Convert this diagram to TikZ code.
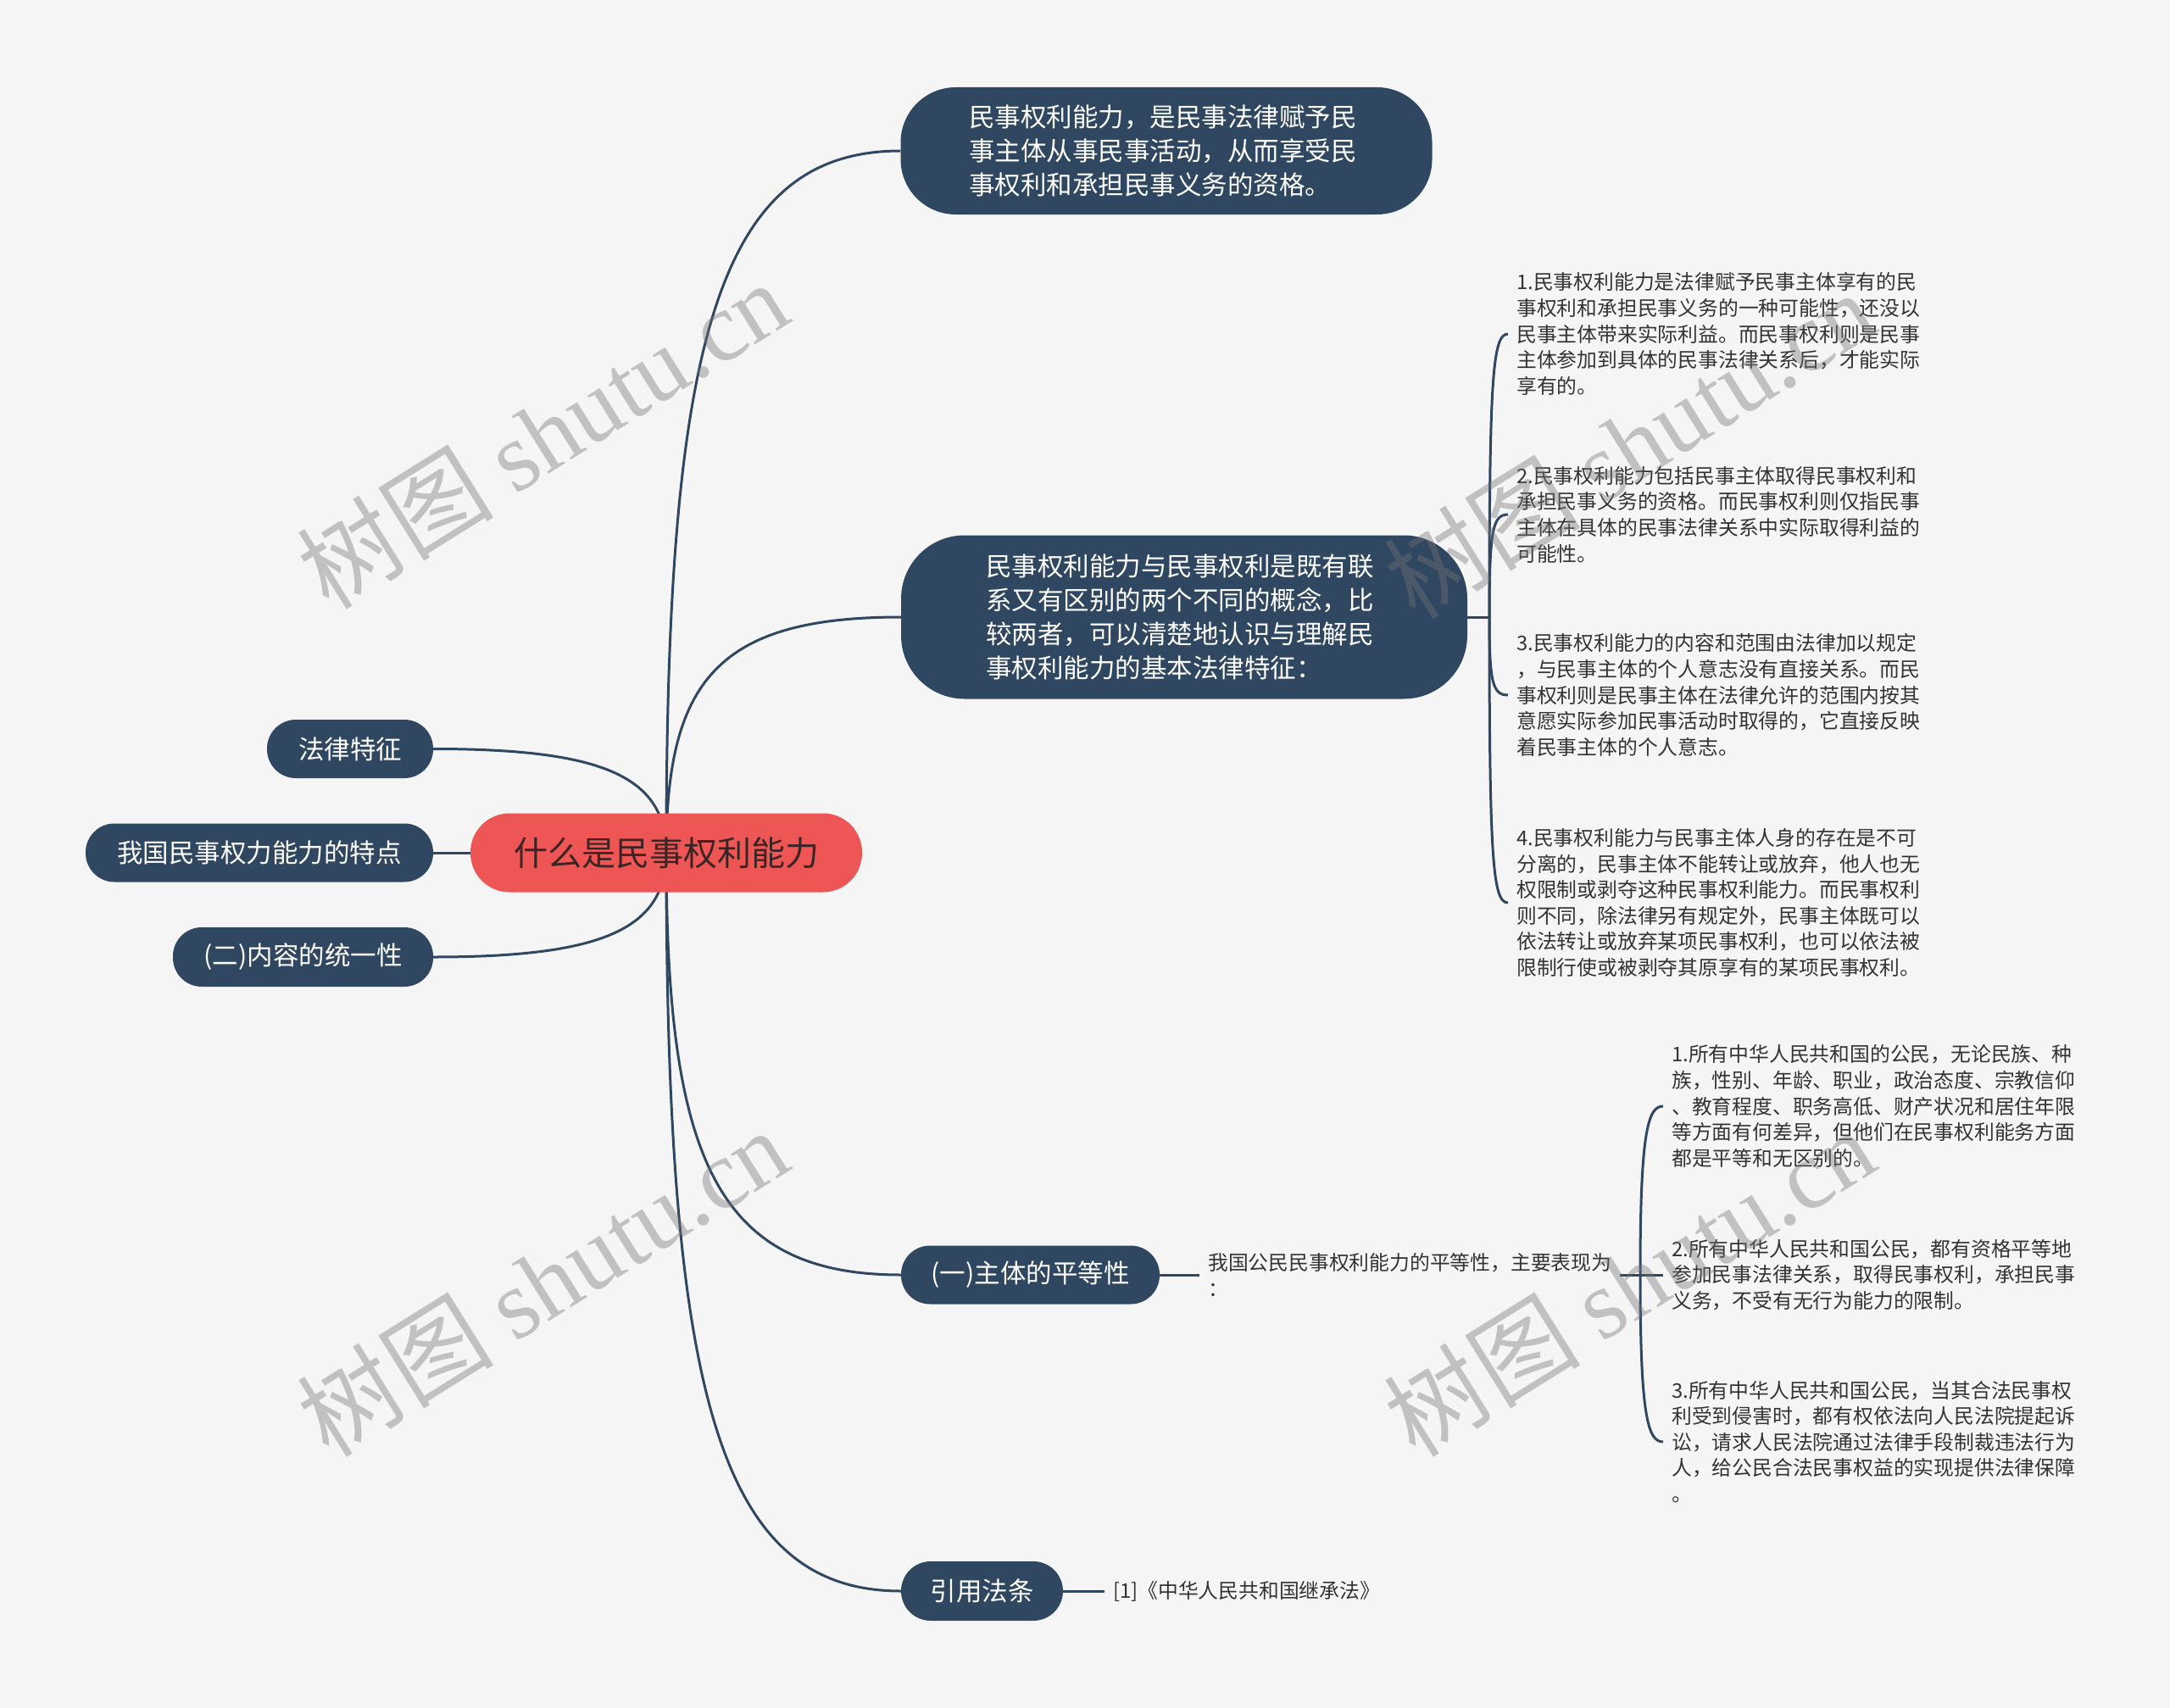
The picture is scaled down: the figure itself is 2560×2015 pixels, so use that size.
\documentclass[tikz,border=0pt]{standalone}
\usepackage{fontspec}
\newfontfamily\cjk{Noto Sans CJK SC}
\newfontfamily\wmserif{Liberation Serif}
\usetikzlibrary{backgrounds}
\definecolor{bgc}{HTML}{F5F5F5}
\definecolor{navy}{HTML}{2F4760}
\definecolor{rootred}{HTML}{EE5555}
\definecolor{roottext}{HTML}{3A2424}
\definecolor{bodytext}{HTML}{333333}
\tikzset{
  pillnode/.style={fill=navy, text=white, inner sep=0pt, align=left,
    font=\cjk\fontsize{30.5}{40}\selectfont},
  rootnode/.style={fill=rootred, text=roottext, inner sep=0pt, rounded corners=46pt,
    minimum width=462pt, minimum height=93pt, font=\cjk\fontsize{40}{46}\selectfont},
  smalltext/.style={text=bodytext, inner xsep=10pt, inner ysep=0pt, anchor=west, align=left,
    font=\cjk\fontsize{23.8}{30.6}\selectfont},
  conn/.style={draw=navy, line width=3pt},
  wm/.style={text=black!55, text opacity=0.4, rotate=32,
    font=\cjk\fontsize{116}{116}\selectfont},
}
\begin{document}
\begin{tikzpicture}[x=1pt,y=-1pt]
\useasboundingbox (0,0) rectangle (2560,2015);
\begin{pgfonlayer}{background}
\fill[bgc] (0,0) rectangle (2560,2015);
\end{pgfonlayer}

% root
\node[rootnode] (root) at (786,1006) {什么是民事权利能力};

% left nodes
\node[pillnode, rounded corners=34pt, minimum width=196pt, minimum height=69pt] (l1) at (413,883.5) {法律特征};
\node[pillnode, rounded corners=34pt, minimum width=410pt, minimum height=69pt] (l2) at (306,1006) {我国民事权力能力的特点};
\node[pillnode, rounded corners=34pt, minimum width=307pt, minimum height=70pt] (l3) at (357.5,1129) {(二)内容的统一性};

% right nodes
\node[pillnode, rounded corners=65pt, minimum width=627pt, minimum height=150pt] (n1) at (1376,178)
  {\hspace*{-8pt}民事权利能力，是民事法律赋予民\\\hspace*{-8pt}事主体从事民事活动，从而享受民\\\hspace*{-8pt}事权利和承担民事义务的资格。};
\node[pillnode, rounded corners=75pt, minimum width=668pt, minimum height=193pt] (n2) at (1397,728)
  {\hspace*{-10pt}民事权利能力与民事权利是既有联\\\hspace*{-10pt}系又有区别的两个不同的概念，比\\\hspace*{-10pt}较两者，可以清楚地认识与理解民\\\hspace*{-10pt}事权利能力的基本法律特征：};
\node[pillnode, rounded corners=34pt, minimum width=305pt, minimum height=69pt] (n3) at (1215.5,1504) {(一)主体的平等性};
\node[pillnode, rounded corners=35pt, minimum width=191pt, minimum height=70pt] (n4) at (1158.5,1877) {引用法条};

% group 1 children
\node[smalltext] (c1) at (1779,394) {1.民事权利能力是法律赋予民事主体享有的民\\事权利和承担民事义务的一种可能性，还没以\\民事主体带来实际利益。而民事权利则是民事\\主体参加到具体的民事法律关系后，才能实际\\享有的。};
\node[smalltext] (c2) at (1779,607) {2.民事权利能力包括民事主体取得民事权利和\\承担民事义务的资格。而民事权利则仅指民事\\主体在具体的民事法律关系中实际取得利益的\\可能性。};
\node[smalltext] (c3) at (1779,820) {3.民事权利能力的内容和范围由法律加以规定\\，与民事主体的个人意志没有直接关系。而民\\事权利则是民事主体在法律允许的范围内按其\\意愿实际参加民事活动时取得的，它直接反映\\着民事主体的个人意志。};
\node[smalltext] (c4) at (1779,1065) {4.民事权利能力与民事主体人身的存在是不可\\分离的，民事主体不能转让或放弃，他人也无\\权限制或剥夺这种民事权利能力。而民事权利\\则不同，除法律另有规定外，民事主体既可以\\依法转让或放弃某项民事权利，也可以依法被\\限制行使或被剥夺其原享有的某项民事权利。};

% group 2
\node[smalltext] (m) at (1415,1504) {我国公民民事权利能力的平等性，主要表现为\\：};
\node[smalltext] (d1) at (1962,1305) {1.所有中华人民共和国的公民，无论民族、种\\族，性别、年龄、职业，政治态度、宗教信仰\\、教育程度、职务高低、财产状况和居住年限\\等方面有何差异，但他们在民事权利能务方面\\都是平等和无区别的。};
\node[smalltext] (d2) at (1962,1504) {2.所有中华人民共和国公民，都有资格平等地\\参加民事法律关系，取得民事权利，承担民事\\义务，不受有无行为能力的限制。};
\node[smalltext] (d3) at (1962,1701) {3.所有中华人民共和国公民，当其合法民事权\\利受到侵害时，都有权依法向人民法院提起诉\\讼，请求人民法院通过法律手段制裁违法行为\\人，给公民合法民事权益的实现提供法律保障\\。};

% reference
\node[smalltext] (r) at (1303,1877) {[1]《中华人民共和国继承法》};

\coordinate (f1) at (1757,728);
\coordinate (f2) at (1935,1504);

\begin{pgfonlayer}{background}
\draw[conn] (root.center) .. controls +(0,-604) and +(-216,0) .. (n1.west);
\draw[conn] (root.center) .. controls +(0,-203) and +(-216,0) .. (n2.west);
\draw[conn] (root.center) .. controls +(0,364) and +(-216,0) .. (n3.west);
\draw[conn] (root.center) .. controls +(0,636) and +(-216,0) .. (n4.west);
\draw[conn] (root.center) .. controls +(0,-90) and +(200,0) .. (l1.east);
\draw[conn] (root.center) -- (l2.east);
\draw[conn] (root.center) .. controls +(0,90) and +(200,0) .. (l3.east);

\draw[conn] (n2.east) -- (f1);
\draw[conn] (f1) .. controls +(0,-284) and +(-18,0) .. (c1.west);
\draw[conn] (f1) .. controls +(0,-103) and +(-18,0) .. (c2.west);
\draw[conn] (f1) .. controls +(0,78) and +(-18,0) .. (c3.west);
\draw[conn] (f1) .. controls +(0,286) and +(-18,0) .. (c4.west);

\draw[conn] (n3.east) -- (m.west);
\draw[conn] (m.east) -- (f2);
\draw[conn] (f2) .. controls +(0,-169) and +(-18,0) .. (d1.west);
\draw[conn] (f2) -- (d2.west);
\draw[conn] (f2) .. controls +(0,167) and +(-18,0) .. (d3.west);

\draw[conn] (n4.east) -- (r.west);
\end{pgfonlayer}

% watermarks
\node[wm] (w1) at (640,512) {树图 {\wmserif shutu.cn}};
\node[wm] (w2) at (640,1512) {树图 {\wmserif shutu.cn}};
\node[wm] (w3) at (1922,524) {树图 {\wmserif shutu.cn}};
\node[wm] (w4) at (1922,1512) {树图 {\wmserif shutu.cn}};
\end{tikzpicture}
\end{document}
